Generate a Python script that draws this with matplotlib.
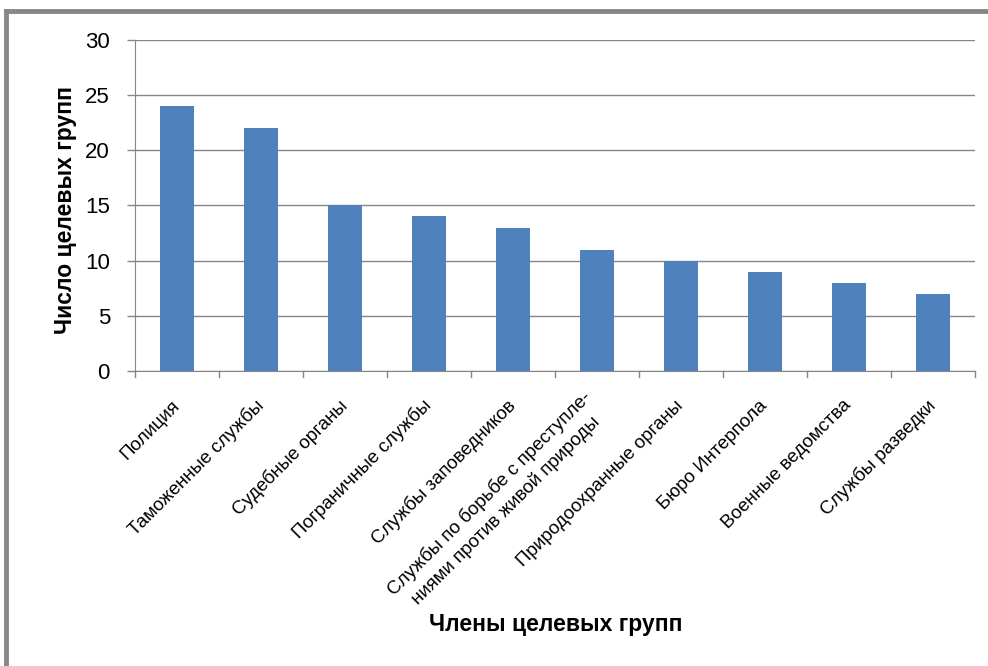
import matplotlib.pyplot as plt
from matplotlib.lines import Line2D

# Данные диаграммы
categories = [
    'Полиция',
    'Таможенные службы',
    'Судебные органы',
    'Пограничные службы',
    'Службы заповедников',
    'Службы по борьбе с преступле-\nниями против живой природы',
    'Природоохранные органы',
    'Бюро Интерпола',
    'Военные ведомства',
    'Службы разведки',
]
values = [24, 22, 15, 14, 13, 11, 10, 9, 8, 7]
y_ticks = [0, 5, 10, 15, 20, 25, 30]

plt.rcParams['font.family'] = ['Liberation Sans', 'DejaVu Sans']

fig = plt.figure(figsize=(9.88, 6.66), dpi=100)
ax = fig.add_axes([0.1366, 0.443, 0.85, 0.497])

x = list(range(len(categories)))
ax.bar(x, values, width=0.4, color='#4F81BD', zorder=3)

ax.set_xlim(-0.5, len(categories) - 0.5)
ax.set_ylim(0, 30)
ax.set_yticks(y_ticks)
ax.set_yticklabels([str(v) for v in y_ticks], fontsize=16)
ax.yaxis.grid(True, color='#868686', linewidth=1, zorder=0)
ax.tick_params(axis='y', length=6, width=1, color='#868686', pad=12)

# подписи категорий повернуты на 45 градусов
ax.set_xticks(x)
ax.set_xticklabels(categories, rotation=45, ha='right', va='center',
                   rotation_mode='anchor', fontsize=13.5, multialignment='center',
                   linespacing=1.35)
ax.tick_params(axis='x', length=0, pad=23)
# засечки между категориями
for b in [i - 0.5 for i in range(len(categories) + 1)]:
    ax.plot([b, b], [0, -0.55], color='#868686', linewidth=1, clip_on=False)

for side in ['top', 'right']:
    ax.spines[side].set_visible(False)
ax.spines['left'].set_color('#868686')
ax.spines['bottom'].set_color('#868686')

fig.text(0.066, 0.685, 'Число целевых групп', rotation=90, ha='center', va='center',
         fontsize=16.5, fontweight='bold')
fig.text(0.562, 0.062, 'Члены целевых групп', ha='center', va='center',
         fontsize=16.5, fontweight='bold')

# рамка слева и сверху
fig.add_artist(Line2D([0.006, 0.006], [0, 0.983], color='#878787', linewidth=3.5))
fig.add_artist(Line2D([0.006, 1.0], [0.983, 0.983], color='#878787', linewidth=3.5))

plt.savefig('out.png', dpi=100)
plt.close()
